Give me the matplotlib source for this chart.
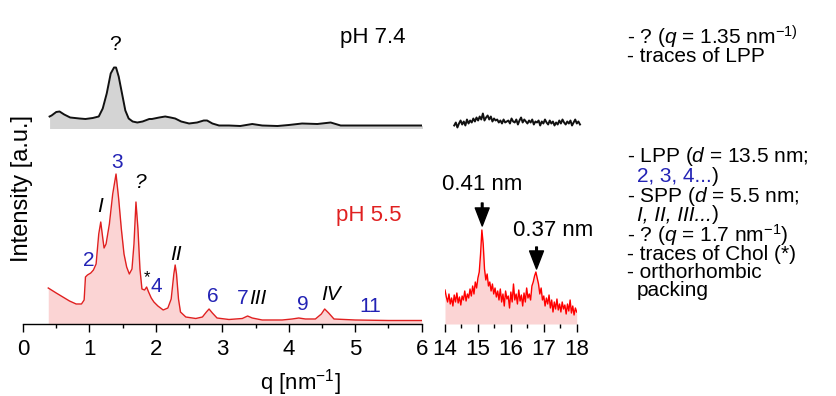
import matplotlib
matplotlib.use('Agg')
import matplotlib.pyplot as plt
import numpy as np
from matplotlib.ticker import MultipleLocator

plt.rcParams['font.family'] = ['Liberation Sans', 'DejaVu Sans']
plt.rcParams['mathtext.fontset'] = 'custom'
plt.rcParams['mathtext.rm'] = 'Liberation Sans'
plt.rcParams['mathtext.it'] = 'Liberation Sans:italic'

# --- pH 5.5, small-angle region (q in nm^-1, intensity a.u.)
q_55 = [0.38, 0.50, 0.60, 0.70, 0.80, 0.88, 0.92, 0.94, 0.97, 1.02, 1.06, 1.10,
        1.14, 1.17, 1.20, 1.22, 1.25, 1.30, 1.35, 1.40, 1.44, 1.48, 1.52, 1.56,
        1.60, 1.64, 1.67, 1.70, 1.73, 1.76, 1.79, 1.83, 1.86, 1.89, 1.93, 1.97,
        2.03, 2.11, 2.18, 2.23, 2.27, 2.29, 2.31, 2.34, 2.37, 2.45, 2.60, 2.70,
        2.76, 2.80, 2.85, 2.92, 3.10, 3.30, 3.38, 3.45, 3.60, 3.90, 4.05, 4.15,
        4.25, 4.40, 4.49, 4.54, 4.60, 4.68, 5.00, 5.50, 6.00]
i_55 = [36, 31, 27, 23, 20, 20, 24, 47, 49, 51, 54, 60,
        90, 102, 86, 76, 80, 100, 130, 150, 125, 95, 70, 57,
        50, 55, 80, 122, 95, 55, 35, 34, 37, 32, 26, 22,
        18, 14, 16, 25, 50, 59, 50, 25, 12, 7, 5.5, 7,
        12, 15, 11, 6, 4.5, 5.5, 8, 6, 4, 4, 5, 6,
        5, 5, 10, 15, 11, 5, 4, 3.5, 3.5]

# --- pH 7.4, small-angle region
q_74 = [0.40, 0.43, 0.50, 0.55, 0.62, 0.71, 0.85, 0.94, 1.05, 1.14, 1.20, 1.26,
        1.32, 1.37, 1.40, 1.44, 1.49, 1.54, 1.59, 1.65, 1.72, 1.80, 1.90, 1.94,
        2.05, 2.14, 2.22, 2.29, 2.38, 2.50, 2.62, 2.72, 2.77, 2.85, 2.95, 3.10,
        3.27, 3.45, 3.60, 3.83, 4.00, 4.20, 4.43, 4.63, 4.78, 5.00, 5.50, 6.02]
i_74 = [12, 13, 16.5, 17, 14, 11, 10, 9.5, 10.5, 12, 20, 35,
        55, 61, 61, 52, 35, 18, 10, 7, 6, 7, 9.5, 9.5,
        11, 12, 11, 10, 7, 5, 6, 8, 8, 5, 3, 3,
        2.5, 4.5, 3, 2.5, 3.5, 5, 4.5, 6, 3, 3, 3, 3]

# --- wide-angle region (q 14-18 nm^-1)
i_55_waxs = [34, 27, 22, 30, 20, 26, 18, 29, 22, 31, 21, 27, 19, 28, 24, 33,
             23, 30, 26, 35, 28, 38, 30, 42, 36, 46, 52, 70, 94, 80, 55, 44,
             50, 38, 42, 33, 40, 30, 36, 27, 33, 24, 35, 22, 30, 18, 33, 25,
             28, 16, 32, 22, 40, 24, 30, 20, 34, 23, 29, 18, 31, 22, 36, 26,
             30, 24, 38, 42, 48, 52, 46, 40, 30, 36, 24, 28, 18, 26, 20, 29,
             16, 24, 12, 22, 15, 25, 14, 20, 12, 22, 15, 19, 10, 20, 13, 24,
             11, 18, 9, 16, 12]
q_55_waxs = np.linspace(14.0, 18.0, len(i_55_waxs))

i_74_waxs = [3, 6, 1, 5, 8, 4, 7, 3, 9, 5, 8, 6, 10, 7, 11, 8, 12, 9, 15, 8,
             11, 13, 9, 12, 7, 10, 8, 9, 6, 8, 5, 9, 6, 7, 8, 5, 10, 7, 6, 9,
             4, 8, 11, 6, 9, 7, 5, 8, 6, 9, 4, 7, 6, 8, 3, 7, 5, 9, 6, 4,
             8, 5, 7, 3, 6, 4, 8, 5, 9, 6, 4, 7, 5, 8, 3, 6, 9, 5, 7, 4]
q_74_waxs = np.linspace(14.28, 18.1, len(i_74_waxs))

# peak labels: (text, q, intensity, kind)
peak_labels = [('3', 1.41, 161, 'lpp'), ('2', 0.99, 64, 'lpp'), ('4', 2.00, 37, 'lpp'),
               ('6', 2.85, 27, 'lpp'), ('7', 3.30, 26, 'lpp'), ('9', 4.21, 19, 'lpp'),
               ('11', 5.23, 18, 'lpp'),
               ('I', 1.16, 117, 'spp'), ('II', 2.30, 69, 'spp'), ('III', 3.53, 26, 'spp'),
               ('IV', 4.63, 29, 'spp'),
               ('?', 1.76, 141, 'unk'), ('*', 1.87, 46, 'chol')]

RED = '#e02020'
PINK = '#fbd4d4'
GRAY = '#d4d4d4'
BLUE = '#2323b5'
OFFSET = 195.5
FS = 16
FS_NOTE = 15

fig = plt.figure(figsize=(8.37, 3.96), dpi=100)
ax1 = fig.add_axes([23 / 837, 72 / 396, 398.7 / 837, 294 / 396])
ax2 = fig.add_axes([445 / 837, 72 / 396, 131.7 / 837, 294 / 396])

# small-angle panel
top74 = np.array(i_74) + OFFSET
ax1.fill_between(q_74, OFFSET, top74, color=GRAY, lw=0)
ax1.plot(q_74, top74, color='#111111', lw=1.4)
ax1.fill_between(q_55, 0, i_55, color=PINK, lw=0)
ax1.plot(q_55, i_55, color=RED, lw=1.0)

ax1.set_xlim(0, 6)
ax1.set_ylim(0, 294)
ax1.xaxis.set_major_locator(MultipleLocator(1))
ax1.xaxis.set_minor_locator(MultipleLocator(0.5))

# wide-angle panel
top74w = np.array(i_74_waxs) + OFFSET
ax2.plot(q_74_waxs, top74w, color='#111111', lw=1.4, clip_on=False)
ax2.fill_between(q_55_waxs, 0, i_55_waxs, color=PINK, lw=0)
ax2.plot(q_55_waxs, i_55_waxs, color='#ff0000', lw=1.0)
ax2.set_xlim(14, 18)
ax2.set_ylim(0, 294)
ax2.xaxis.set_major_locator(MultipleLocator(1))
ax2.xaxis.set_minor_locator(MultipleLocator(0.5))

for ax in (ax1, ax2):
    for side in ('left', 'right', 'top'):
        ax.spines[side].set_visible(False)
    ax.spines['bottom'].set_linewidth(1.0)
    ax.set_yticks([])
    ax.tick_params(axis='x', which='major', direction='out', length=6, width=1,
                   labelsize=FS, pad=5)
    ax.tick_params(axis='x', which='minor', direction='out', length=3, width=1)
    ax.patch.set_alpha(0)
ax2.spines['bottom'].set_visible(False)

# labels on peaks
for txt, q, inten, kind in peak_labels:
    if kind == 'lpp':
        ax1.text(q, inten, txt, color=BLUE, fontsize=FS - 1, ha='center', va='center')
    elif kind in ('spp', 'unk'):
        ax1.text(q, inten, txt, color='black', fontsize=FS - 1, style='italic',
                 ha='center', va='center')
    else:
        ax1.text(q, inten, txt, color='black', fontsize=FS - 4, ha='center', va='center')

ax1.text(1.39, 279, '?', fontsize=FS - 1, ha='center', va='center')
ax1.text(5.27, 286, 'pH 7.4', fontsize=FS, ha='center', va='center')
ax1.text(5.20, 109, 'pH 5.5', fontsize=FS, color=RED, ha='center', va='center')

# WAXS peak arrows
arrow = dict(facecolor='black', edgecolor='black', width=1.2, headwidth=10,
             headlength=13, shrink=0)
ax2.annotate('', xy=(15.13, 98), xytext=(15.13, 121), arrowprops=arrow)
ax2.annotate('', xy=(16.78, 55), xytext=(16.78, 77), arrowprops=arrow)
ax2.text(15.12, 139, '0.41 nm', fontsize=FS, ha='center', va='center')
ax2.text(17.27, 94, '0.37 nm', fontsize=FS, ha='center', va='center')

# axis titles
fig.text(300 / 837, 0.035, r'q [nm$^{-1}$]', fontsize=FS, ha='center', va='center')
fig.text(22 / 837, 1 - 189 / 396, 'Intensity [a.u.]', fontsize=FS + 1, rotation=90,
         ha='center', va='center')

# notes on the right
x0 = 627 / 837
x1 = 637 / 837
def ypx(p):
    return 1 - p / 396

fig.text(x0, ypx(37), r'- ? ($q$ = 1.35 nm$^{-1)}$', fontsize=FS_NOTE, va='center')
fig.text(x0, ypx(56), '- traces of LPP', fontsize=FS_NOTE, va='center')
fig.text(x0, ypx(157), r'- LPP ($d$ = 13.5 nm;', fontsize=FS_NOTE, va='center')
t_blue = fig.text(x1, ypx(176), '2, 3, 4...', fontsize=FS_NOTE, color=BLUE, va='center')
ax1.annotate(')', xy=(1, 0.5), xycoords=t_blue, fontsize=FS_NOTE, va='center',
             annotation_clip=False)
fig.text(x0, ypx(196), r'- SPP ($d$ = 5.5 nm;', fontsize=FS_NOTE, va='center')
t_it = fig.text(x1, ypx(215), 'I, II, III...', fontsize=FS_NOTE, style='italic',
                va='center')
ax1.annotate(')', xy=(1, 0.5), xycoords=t_it, fontsize=FS_NOTE, va='center',
             annotation_clip=False)
fig.text(x0, ypx(235), r'- ? ($q$ = 1.7 nm$^{-1}$)', fontsize=FS_NOTE, va='center')
fig.text(x0, ypx(254), '- traces of Chol (*)', fontsize=FS_NOTE, va='center')
fig.text(x0, ypx(272), '- orthorhombic', fontsize=FS_NOTE, va='center')
fig.text(x1, ypx(291), 'packing', fontsize=FS_NOTE, va='center')

fig.savefig('out.png', dpi=100)
plt.close(fig)
